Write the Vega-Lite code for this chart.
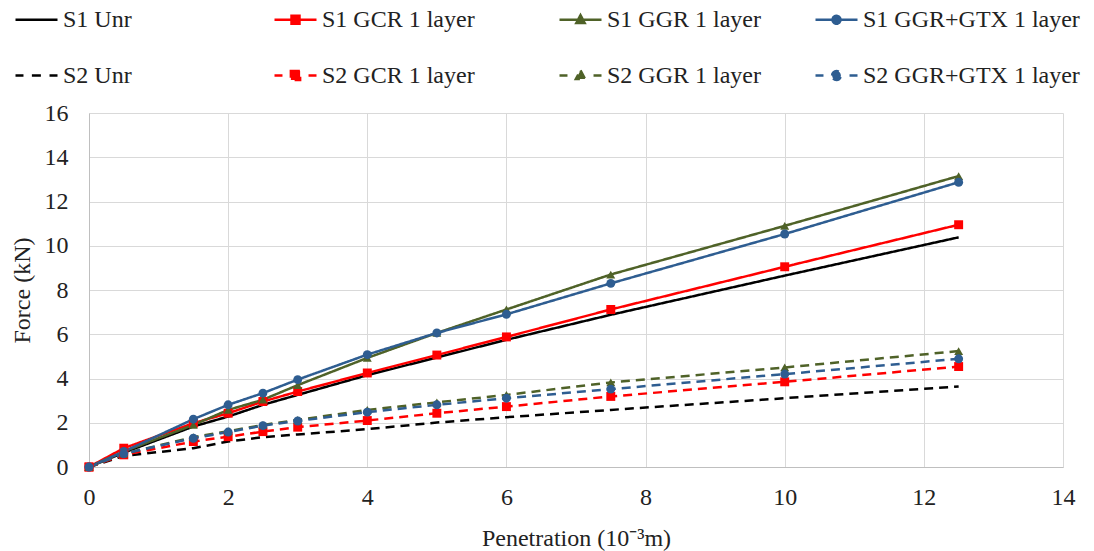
{
  "$schema": "https://vega.github.io/schema/vega-lite/v6.json",
  "autosize": "none",
  "width": 974,
  "height": 354,
  "padding": {"left": 89, "top": 113, "right": 31, "bottom": 84},
  "background": "white",
  "config": {
    "font": "Liberation Serif",
    "view": {"stroke": null},
    "axis": {"labelFont": "Liberation Serif", "labelFontSize": 24, "labelColor": "#222", "titleFont": "Liberation Serif", "titleFontSize": 24, "titleFontWeight": "normal", "titleColor": "#222", "gridColor": "#d9d9d9", "gridWidth": 1, "domainColor": "#bfbfbf", "ticks": false}
  },
  "data": {"values": [
    {"series": "S1 Unr", "x": 0, "y": 0}, {"series": "S1 Unr", "x": 0.5, "y": 0.65}, {"series": "S1 Unr", "x": 1.5, "y": 1.83}, {"series": "S1 Unr", "x": 2, "y": 2.28}, {"series": "S1 Unr", "x": 2.5, "y": 2.81}, {"series": "S1 Unr", "x": 3, "y": 3.26}, {"series": "S1 Unr", "x": 4, "y": 4.15}, {"series": "S1 Unr", "x": 5, "y": 4.95}, {"series": "S1 Unr", "x": 6, "y": 5.75}, {"series": "S1 Unr", "x": 7.5, "y": 6.88}, {"series": "S1 Unr", "x": 10, "y": 8.65}, {"series": "S1 Unr", "x": 12.5, "y": 10.38},
    {"series": "S1 GCR 1 layer", "x": 0, "y": 0}, {"series": "S1 GCR 1 layer", "x": 0.5, "y": 0.85}, {"series": "S1 GCR 1 layer", "x": 1.5, "y": 1.98}, {"series": "S1 GCR 1 layer", "x": 2, "y": 2.43}, {"series": "S1 GCR 1 layer", "x": 2.5, "y": 2.96}, {"series": "S1 GCR 1 layer", "x": 3, "y": 3.41}, {"series": "S1 GCR 1 layer", "x": 4, "y": 4.25}, {"series": "S1 GCR 1 layer", "x": 5, "y": 5.06}, {"series": "S1 GCR 1 layer", "x": 6, "y": 5.88}, {"series": "S1 GCR 1 layer", "x": 7.5, "y": 7.12}, {"series": "S1 GCR 1 layer", "x": 10, "y": 9.05}, {"series": "S1 GCR 1 layer", "x": 12.5, "y": 10.95},
    {"series": "S1 GGR 1 layer", "x": 0, "y": 0}, {"series": "S1 GGR 1 layer", "x": 0.5, "y": 0.7}, {"series": "S1 GGR 1 layer", "x": 1.5, "y": 1.9}, {"series": "S1 GGR 1 layer", "x": 2, "y": 2.58}, {"series": "S1 GGR 1 layer", "x": 2.5, "y": 3.04}, {"series": "S1 GGR 1 layer", "x": 3, "y": 3.7}, {"series": "S1 GGR 1 layer", "x": 4, "y": 4.93}, {"series": "S1 GGR 1 layer", "x": 5, "y": 6.06}, {"series": "S1 GGR 1 layer", "x": 6, "y": 7.12}, {"series": "S1 GGR 1 layer", "x": 7.5, "y": 8.7}, {"series": "S1 GGR 1 layer", "x": 10, "y": 10.9}, {"series": "S1 GGR 1 layer", "x": 12.5, "y": 13.15},
    {"series": "S1 GGR+GTX 1 layer", "x": 0, "y": 0}, {"series": "S1 GGR+GTX 1 layer", "x": 0.5, "y": 0.7}, {"series": "S1 GGR+GTX 1 layer", "x": 1.5, "y": 2.16}, {"series": "S1 GGR+GTX 1 layer", "x": 2, "y": 2.81}, {"series": "S1 GGR+GTX 1 layer", "x": 2.5, "y": 3.34}, {"series": "S1 GGR+GTX 1 layer", "x": 3, "y": 3.95}, {"series": "S1 GGR+GTX 1 layer", "x": 4, "y": 5.08}, {"series": "S1 GGR+GTX 1 layer", "x": 5, "y": 6.06}, {"series": "S1 GGR+GTX 1 layer", "x": 6, "y": 6.9}, {"series": "S1 GGR+GTX 1 layer", "x": 7.5, "y": 8.3}, {"series": "S1 GGR+GTX 1 layer", "x": 10, "y": 10.53}, {"series": "S1 GGR+GTX 1 layer", "x": 12.5, "y": 12.87},
    {"series": "S2 Unr", "x": 0, "y": 0}, {"series": "S2 Unr", "x": 0.5, "y": 0.5}, {"series": "S2 Unr", "x": 1.5, "y": 0.85}, {"series": "S2 Unr", "x": 2, "y": 1.15}, {"series": "S2 Unr", "x": 2.5, "y": 1.35}, {"series": "S2 Unr", "x": 3, "y": 1.47}, {"series": "S2 Unr", "x": 4, "y": 1.71}, {"series": "S2 Unr", "x": 5, "y": 2.01}, {"series": "S2 Unr", "x": 6, "y": 2.25}, {"series": "S2 Unr", "x": 7.5, "y": 2.58}, {"series": "S2 Unr", "x": 10, "y": 3.11}, {"series": "S2 Unr", "x": 12.5, "y": 3.64},
    {"series": "S2 GCR 1 layer", "x": 0, "y": 0}, {"series": "S2 GCR 1 layer", "x": 0.5, "y": 0.55}, {"series": "S2 GCR 1 layer", "x": 1.5, "y": 1.15}, {"series": "S2 GCR 1 layer", "x": 2, "y": 1.37}, {"series": "S2 GCR 1 layer", "x": 2.5, "y": 1.6}, {"series": "S2 GCR 1 layer", "x": 3, "y": 1.8}, {"series": "S2 GCR 1 layer", "x": 4, "y": 2.1}, {"series": "S2 GCR 1 layer", "x": 5, "y": 2.43}, {"series": "S2 GCR 1 layer", "x": 6, "y": 2.73}, {"series": "S2 GCR 1 layer", "x": 7.5, "y": 3.19}, {"series": "S2 GCR 1 layer", "x": 10, "y": 3.85}, {"series": "S2 GCR 1 layer", "x": 12.5, "y": 4.54},
    {"series": "S2 GGR 1 layer", "x": 0, "y": 0}, {"series": "S2 GGR 1 layer", "x": 0.5, "y": 0.6}, {"series": "S2 GGR 1 layer", "x": 1.5, "y": 1.35}, {"series": "S2 GGR 1 layer", "x": 2, "y": 1.62}, {"series": "S2 GGR 1 layer", "x": 2.5, "y": 1.9}, {"series": "S2 GGR 1 layer", "x": 3, "y": 2.13}, {"series": "S2 GGR 1 layer", "x": 4, "y": 2.58}, {"series": "S2 GGR 1 layer", "x": 5, "y": 2.92}, {"series": "S2 GGR 1 layer", "x": 6, "y": 3.26}, {"series": "S2 GGR 1 layer", "x": 7.5, "y": 3.82}, {"series": "S2 GGR 1 layer", "x": 10, "y": 4.5}, {"series": "S2 GGR 1 layer", "x": 12.5, "y": 5.24},
    {"series": "S2 GGR+GTX 1 layer", "x": 0, "y": 0}, {"series": "S2 GGR+GTX 1 layer", "x": 0.5, "y": 0.6}, {"series": "S2 GGR+GTX 1 layer", "x": 1.5, "y": 1.3}, {"series": "S2 GGR+GTX 1 layer", "x": 2, "y": 1.58}, {"series": "S2 GGR+GTX 1 layer", "x": 2.5, "y": 1.87}, {"series": "S2 GGR+GTX 1 layer", "x": 3, "y": 2.08}, {"series": "S2 GGR+GTX 1 layer", "x": 4, "y": 2.48}, {"series": "S2 GGR+GTX 1 layer", "x": 5, "y": 2.81}, {"series": "S2 GGR+GTX 1 layer", "x": 6, "y": 3.11}, {"series": "S2 GGR+GTX 1 layer", "x": 7.5, "y": 3.52}, {"series": "S2 GGR+GTX 1 layer", "x": 10, "y": 4.2}, {"series": "S2 GGR+GTX 1 layer", "x": 12.5, "y": 4.89}
  ]},
  "encoding": {
    "x": {"field": "x", "type": "quantitative", "title": "Penetration (10⁻³m)", "scale": {"domain": [0, 14], "nice": false, "zero": true}, "axis": {"values": [0, 2, 4, 6, 8, 10, 12, 14], "labelPadding": 18, "titlePadding": 17, "labelFlush": false}},
    "y": {"field": "y", "type": "quantitative", "title": "Force (kN)", "scale": {"domain": [0, 16], "nice": false}, "axis": {"values": [0, 2, 4, 6, 8, 10, 12, 14, 16], "labelPadding": 21, "titlePadding": 10}},
    "color": {"field": "series", "type": "nominal",
      "scale": {"domain": ["S1 Unr", "S1 GCR 1 layer", "S1 GGR 1 layer", "S1 GGR+GTX 1 layer", "S2 Unr", "S2 GCR 1 layer", "S2 GGR 1 layer", "S2 GGR+GTX 1 layer"],
                "range": ["#000000", "#ff0000", "#4f6228", "#2e5d91", "#000000", "#ff0000", "#4f6228", "#2e5d91"]},
      "legend": {
        "orient": "none", "legendX": -75, "legendY": -116, "direction": "horizontal", "columns": 4, "columnPadding": 0, "rowPadding": 21,
        "title": null, "labelFont": "Liberation Serif", "labelFontSize": 24, "labelColor": "#222", "labelOffset": 4, "labelLimit": 400,
        "symbolSize": 1764, "symbolStrokeWidth": 2.5,
        "encode": {
          "symbols": {"update": {
            "shape": {"signal": "datum.value === 'S1 Unr' ? 'M-1,0H1M10.81,0' : datum.value === 'S1 GCR 1 layer' ? 'M-1,0H1M-0.19,-0.19H0.19V0.19H-0.19ZM12.04,0' : datum.value === 'S1 GGR 1 layer' ? 'M-1,0H1M0,-0.22L0.2,0.16H-0.2ZM10.67,0' : datum.value === 'S1 GGR+GTX 1 layer' ? 'M-1,0H1M-0.19,0A0.19,0.19,0,1,1,0.19,0A0.19,0.19,0,1,1,-0.19,0Z' : datum.value === 'S2 Unr' ? 'M-1,0H-0.62M-0.22,0H0.22M0.62,0H1M10.81,0' : datum.value === 'S2 GCR 1 layer' ? 'M-1,0H-0.62M0.62,0H1M-0.22,-0.22H0.22V0.22H-0.22ZM12.04,0' : datum.value === 'S2 GGR 1 layer' ? 'M-1,0H-0.62M0.62,0H1M0,-0.24L0.22,0.17H-0.22ZM10.67,0' : 'M-1,0H-0.62M0.62,0H1M-0.21,0A0.21,0.21,0,1,1,0.21,0A0.21,0.21,0,1,1,-0.21,0Z'"},
            "fill": {"scale": "color", "field": "value"},
            "stroke": {"scale": "color", "field": "value"},
            "opacity": {"value": 1}
          }}
        }
      }
    }
  },
  "layer": [
    {
      "mark": {"type": "line", "strokeWidth": 2.5},
      "encoding": {
        "strokeDash": {"field": "series", "type": "nominal", "legend": null,
          "scale": {"domain": ["S1 Unr", "S1 GCR 1 layer", "S1 GGR 1 layer", "S1 GGR+GTX 1 layer", "S2 Unr", "S2 GCR 1 layer", "S2 GGR 1 layer", "S2 GGR+GTX 1 layer"],
                    "range": [[1, 0], [1, 0], [1, 0], [1, 0], [9, 6], [9, 6], [9, 6], [9, 6]]}}
      }
    },
    {
      "transform": [{"filter": "indexof(datum.series, 'Unr') < 0"}],
      "mark": {"type": "point", "filled": true, "opacity": 1, "size": 80},
      "encoding": {
        "shape": {"field": "series", "type": "nominal", "legend": null,
          "scale": {"domain": ["S1 GCR 1 layer", "S1 GGR 1 layer", "S1 GGR+GTX 1 layer", "S2 GCR 1 layer", "S2 GGR 1 layer", "S2 GGR+GTX 1 layer"],
                    "range": ["square", "triangle-up", "circle", "square", "triangle-up", "circle"]}}
      }
    }
  ]
}
